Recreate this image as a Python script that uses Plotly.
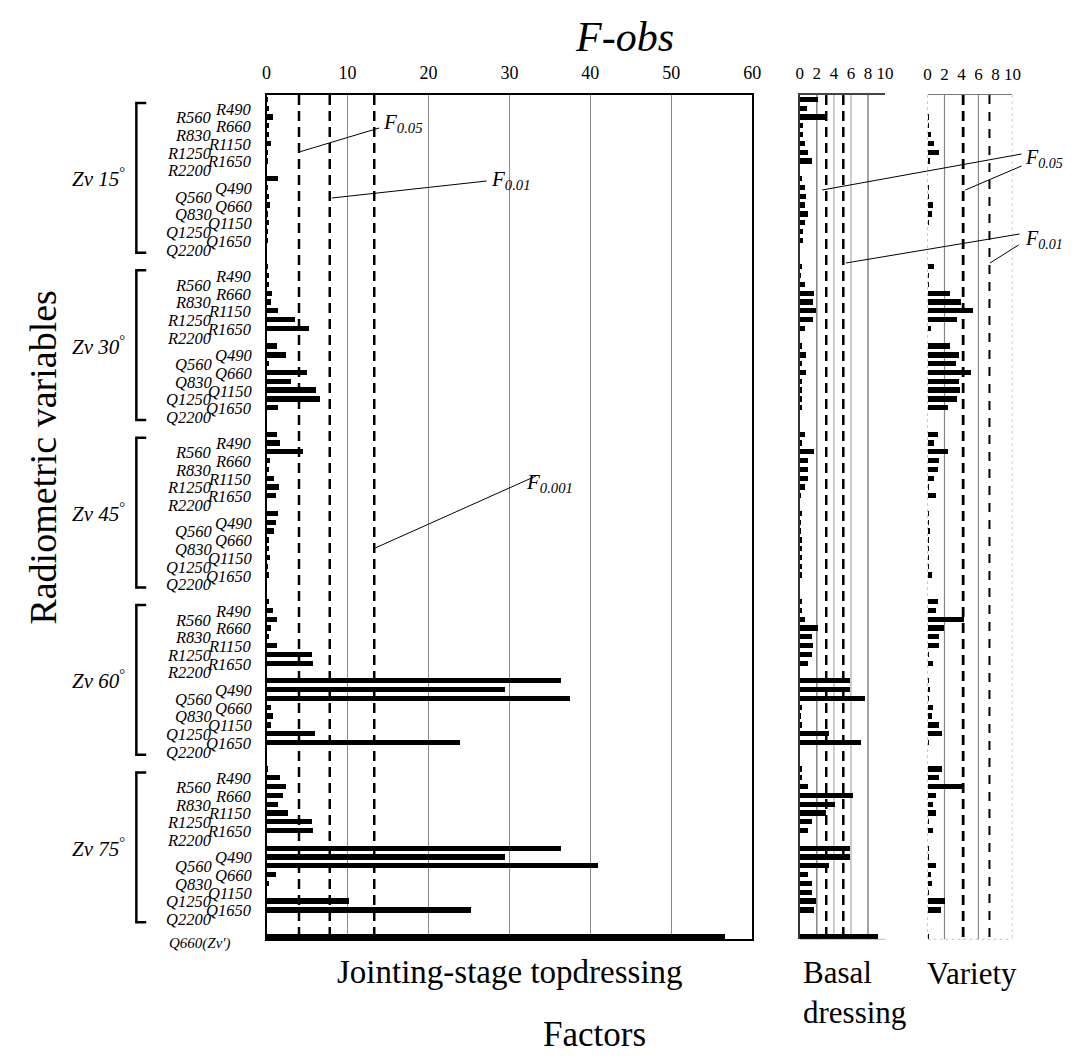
import plotly.graph_objects as go

# page body has an 8px margin; the figure is sized to fit inside it
PAGE_W, PAGE_H = 1080, 1064
OFF = 8
W, H = PAGE_W - 2 * OFF, PAGE_H - 2 * OFF

# ---------------- data ----------------
groups = ["15", "30", "45", "60", "75"]
variables = ["R490", "R560", "R660", "R830", "R1150", "R1250", "R1650", "R2200",
             "Q490", "Q560", "Q660", "Q830", "Q1150", "Q1250", "Q1650", "Q2200"]
extra_label = "Q660(Zv')"

# Jointing-stage topdressing F values (16 variables per view zenith group)
joint_zv15 = [0.1, 0.3, 0.8, 0.3, 0.2, 0.5, 0.1, 0.1, 1.4, 0.1, 0.2, 0.4, 0.1, 0.2, 0.1, 0.1]
joint_zv30 = [0.1, 0.2, 0.3, 0.6, 0.5, 1.4, 3.5, 5.2, 1.2, 2.4, 0.2, 4.9, 3.0, 6.0, 6.5, 1.4]
joint_zv45 = [1.2, 1.6, 4.5, 0.4, 0.3, 0.9, 1.5, 1.1, 1.3, 1.1, 0.9, 0.2, 0.3, 0.4, 0.1, 0.3]
joint_zv60 = [0.3, 0.8, 1.2, 0.5, 0.3, 1.2, 5.5, 5.7, 36.3, 29.4, 37.4, 0.5, 0.8, 0.5, 5.9, 23.8]
joint_zv75 = [0.1, 1.6, 2.4, 2.0, 1.4, 2.6, 5.5, 5.7, 36.3, 29.4, 40.9, 1.1, 0.2, 0.0, 10.1, 25.2]
joint_extra = 56.6

# Basal dressing F values
basal_zv15 = [2.1, 0.8, 2.9, 0.35, 0.35, 0.55, 0.9, 1.4, 0.2, 0.55, 0.7, 0.55, 0.9, 0.55, 0.35, 0.35]
basal_zv30 = [0.2, 0.1, 0.55, 1.7, 1.55, 1.9, 1.55, 0.55, 0.15, 0.75, 0.2, 0.75, 0.2, 0.15, 0.2, 0.2]
basal_zv45 = [0.55, 0.15, 1.6, 0.9, 0.9, 0.9, 0.55, 0.1, 0.2, 0.05, 0.1, 0.25, 0.25, 0.15, 0.15, 0.15]
basal_zv60 = [0.15, 0.15, 0.6, 2.1, 1.4, 1.5, 1.4, 0.9, 5.9, 5.9, 7.6, 0.15, 0.05, 0.15, 3.4, 7.2]
basal_zv75 = [0.2, 0.15, 0.9, 6.2, 4.1, 3.1, 1.4, 0.9, 5.9, 5.9, 3.4, 0.9, 1.4, 1.4, 1.9, 1.6]
basal_extra = 9.1

# Variety F values
variety_zv15 = [0.0, 0.0, 0.05, 0.1, 0.3, 0.7, 1.3, 0.25, 0.0, 0.05, 0.1, 0.55, 0.45, 0.1, 0.0, 0.0]
variety_zv30 = [0.7, 0.1, 0.1, 2.6, 3.9, 5.3, 3.4, 0.4, 2.6, 3.7, 3.3, 5.1, 3.6, 3.8, 3.4, 2.4]
variety_zv45 = [1.2, 0.7, 2.4, 1.3, 1.2, 0.7, 0.05, 1.0, 0.05, 0.05, 0.15, 0.05, 0.05, 0.05, 0.05, 0.5]
variety_zv60 = [1.2, 1.0, 4.3, 1.9, 1.3, 1.3, 0.1, 0.6, 0.05, 0.15, 0.05, 0.6, 0.5, 1.3, 1.6, 0.1]
variety_zv75 = [1.6, 1.3, 4.2, 0.9, 0.6, 0.9, 0.1, 0.6, 0.05, 0.1, 0.9, 0.3, 0.5, 0.05, 2.0, 1.5]
variety_extra = 0.05

# critical F values
f_joint = [4.0, 7.8, 13.3]
f_basal = [3.1, 5.1]
f_variety = [4.2, 7.3]

joint_ticks = [0, 10, 20, 30, 40, 50, 60]
small_ticks = [0, 2, 4, 6, 8, 10]

joint_groups = [joint_zv15, joint_zv30, joint_zv45, joint_zv60, joint_zv75]
basal_groups = [basal_zv15, basal_zv30, basal_zv45, basal_zv60, basal_zv75]
variety_groups = [variety_zv15, variety_zv30, variety_zv45, variety_zv60, variety_zv75]

# ---------------- row layout ----------------
ROWS_PER_GROUP = 19


def row_of(g, v):
    return g * ROWS_PER_GROUP + v + (1 if v >= 8 else 0)


extra_row = (len(groups) - 1) * ROWS_PER_GROUP + 16 + 3
Y_RANGE = [extra_row + 0.35, -0.5]

rows, jx, bx, vx = [], [], [], []
for g in range(len(groups)):
    for v in range(len(variables)):
        rows.append(row_of(g, v))
        jx.append(joint_groups[g][v])
        bx.append(basal_groups[g][v])
        vx.append(variety_groups[g][v])
rows.append(extra_row)
jx.append(joint_extra)
bx.append(basal_extra)
vx.append(variety_extra)


def px(x):
    return (x - OFF) / W


def py(y):
    return 1 - (y - OFF) / H


SERIF = "Liberation Serif"
YDOM = [py(939.4), py(95)]

fig = go.Figure()
bar_kw = dict(orientation="h", width=0.6, marker=dict(color="black", line=dict(width=0)),
              showlegend=False, hoverinfo="x+y")
fig.add_trace(go.Bar(x=jx, y=rows, xaxis="x", yaxis="y", **bar_kw))
fig.add_trace(go.Bar(x=bx, y=rows, xaxis="x2", yaxis="y2", **bar_kw))
fig.add_trace(go.Bar(x=vx, y=rows, xaxis="x3", yaxis="y3", **bar_kw))

tickfont = dict(family=SERIF, size=18, color="black")
small_tickfont = dict(family=SERIF, size=17, color="black")

fig.update_layout(
    width=W, height=H, margin=dict(l=0, r=0, t=0, b=0),
    paper_bgcolor="white", plot_bgcolor="white", bargap=0,
    xaxis=dict(domain=[px(265), px(757)], range=[0, 60], side="top", tickvals=joint_ticks,
               tickfont=tickfont, showgrid=True, gridcolor="#8a8a8a", gridwidth=1,
               showline=True, linecolor="black", linewidth=2, mirror=True, zeroline=False,
               ticks="", ticklabelstandoff=7, anchor="y"),
    yaxis=dict(domain=YDOM, range=Y_RANGE, showticklabels=False, showgrid=False, zeroline=False,
               showline=True, linecolor="black", linewidth=2, mirror=True, ticks="", anchor="x"),
    xaxis2=dict(domain=[px(805.3), px(891.7)], range=[0, 10], side="top", tickvals=small_ticks,
                tickfont=small_tickfont, showgrid=False, showline=True, linecolor="#444",
                linewidth=1.5, zeroline=False, ticks="", ticklabelstandoff=7, anchor="y2"),
    yaxis2=dict(domain=YDOM, range=Y_RANGE, showticklabels=False, showgrid=False, zeroline=False,
                showline=True, linecolor="#333", linewidth=1.5, ticks="", anchor="x2"),
    xaxis3=dict(domain=[px(934.7), px(1020.7)], range=[0, 10], side="top", tickvals=small_ticks,
                tickfont=small_tickfont, showgrid=False, showline=True, linecolor="#777",
                linewidth=1.2, zeroline=False, ticks="", ticklabelstandoff=7, anchor="y3"),
    yaxis3=dict(domain=YDOM, range=Y_RANGE, showticklabels=False, showgrid=False, zeroline=False,
                showline=False, ticks="", anchor="x3"),
)

shapes = []
# basal gridlines
for val, col in zip([2, 4, 6, 8], ["#666", "#aaa", "#aaa", "#666"]):
    shapes.append(dict(type="line", xref="x2", yref="y2", x0=val, x1=val, y0=Y_RANGE[1], y1=Y_RANGE[0],
                       line=dict(color=col, width=1.2), layer="below"))
shapes.append(dict(type="line", xref="x2", yref="y2", x0=0, x1=10, y0=Y_RANGE[0], y1=Y_RANGE[0],
                   line=dict(color="#777", width=1)))
# variety gridlines and dotted frame
for val in [2, 6]:
    shapes.append(dict(type="line", xref="x3", yref="y3", x0=val, x1=val, y0=Y_RANGE[1], y1=Y_RANGE[0],
                       line=dict(color="#888", width=1.2), layer="below"))
for val in [0, 10]:
    shapes.append(dict(type="line", xref="x3", yref="y3", x0=val, x1=val, y0=Y_RANGE[1], y1=Y_RANGE[0],
                       line=dict(color="#999", width=1, dash="dot"), layer="below"))
shapes.append(dict(type="line", xref="x3", yref="y3", x0=0, x1=10, y0=Y_RANGE[0], y1=Y_RANGE[0],
                   line=dict(color="#999", width=1, dash="dot")))

# critical value dashed lines
for val in f_joint:
    shapes.append(dict(type="line", xref="x", yref="y", x0=val, x1=val, y0=Y_RANGE[1], y1=Y_RANGE[0],
                       line=dict(color="black", width=2.5, dash="10px,6px")))
for val in f_basal:
    shapes.append(dict(type="line", xref="x2", yref="y2", x0=val, x1=val, y0=Y_RANGE[1], y1=Y_RANGE[0],
                       line=dict(color="black", width=2.5, dash="10px,6px")))
shapes.append(dict(type="line", xref="x3", yref="y3", x0=f_variety[0], x1=f_variety[0], y0=Y_RANGE[1],
                   y1=Y_RANGE[0], line=dict(color="black", width=2.8, dash="10px,6px")))
shapes.append(dict(type="line", xref="x3", yref="y3", x0=f_variety[1], x1=f_variety[1], y0=Y_RANGE[1],
                   y1=Y_RANGE[0], line=dict(color="black", width=2, dash="9px,8px")))

# leader lines for F labels (pixel positions)
leaders = [((298, 152), (379, 128)), ((331, 198), (488, 181)), ((375, 548), (538, 476)),
           ((828, 190), (1030, 154)), ((973, 190), (1030, 166)),
           ((852, 263), (1028, 234)), ((998, 263), (1027, 245))]
for (x0, y0), (x1, y1) in leaders:
    shapes.append(dict(type="line", xref="paper", yref="paper", x0=px(x0), y0=py(y0), x1=px(x1), y1=py(y1),
                       line=dict(color="black", width=1)))

# group brackets
for g in range(len(groups)):
    top = row_of(g, 0) + 0.4
    bot = row_of(g, 15) + 1.4
    shapes.append(dict(type="path", xref="paper", yref="y",
                       path=f"M {px(143)},{top} L {px(133)},{top} L {px(133)},{bot} L {px(143)},{bot}",
                       line=dict(color="black", width=2.5)))

annotations = []


def ann(text, x, y, size, xanchor="center", yanchor="middle", xref="paper", yref="paper", angle=0, align="center"):
    annotations.append(dict(text=text, x=x, y=y, xref=xref, yref=yref, showarrow=False,
                            xanchor=xanchor, yanchor=yanchor, textangle=angle, align=align,
                            font=dict(family=SERIF, size=size, color="black")))


ann("<i>F-obs</i>", px(628), py(37), 42)
ann("Radiometric variables", px(38), py(457), 38, angle=-90)
ann("Factors", px(597), py(1034), 35)
ann("Jointing-stage topdressing", px(512), py(972), 33)
ann("Basal<br>dressing", px(806), py(992), 31, xanchor="left", align="left")
ann("Variety", px(980), py(973), 31)

# F labels
ann("<i>F</i><sub><i>0.05</i></sub>", px(381), py(123), 21, xanchor="left")
ann("<i>F</i><sub><i>0.01</i></sub>", px(490), py(180), 21, xanchor="left")
ann("<i>F</i><sub><i>0.001</i></sub>", px(526), py(483), 21, xanchor="left")
ann("<i>F</i><sub><i>0.05</i></sub>", px(1031), py(159), 20, xanchor="left")
ann("<i>F</i><sub><i>0.01</i></sub>", px(1031), py(239), 20, xanchor="left")

# group labels
for g, name in enumerate(groups):
    mid = (row_of(g, 0) + row_of(g, 15)) / 2 + 0.9
    ann(f"<i>Zv</i> <i>{name}</i><sup>°</sup>", px(95), mid, 21, yref="y")

# variable labels (staggered two columns)
for g in range(len(groups)):
    for v, name in enumerate(variables):
        right_col = (v % 2 == 0)
        ann(f"<i>{name}</i>", px(252) if right_col else px(212), row_of(g, v) + 1.1, 16.5,
            xanchor="right", yref="y")
# the extra variable's label sits just below the axis range -> place in paper units
ann(f"<i>{extra_label}</i>", px(231), py(943), 15, xanchor="right")

fig.update_layout(shapes=shapes, annotations=annotations)
fig.write_html("out.html")
